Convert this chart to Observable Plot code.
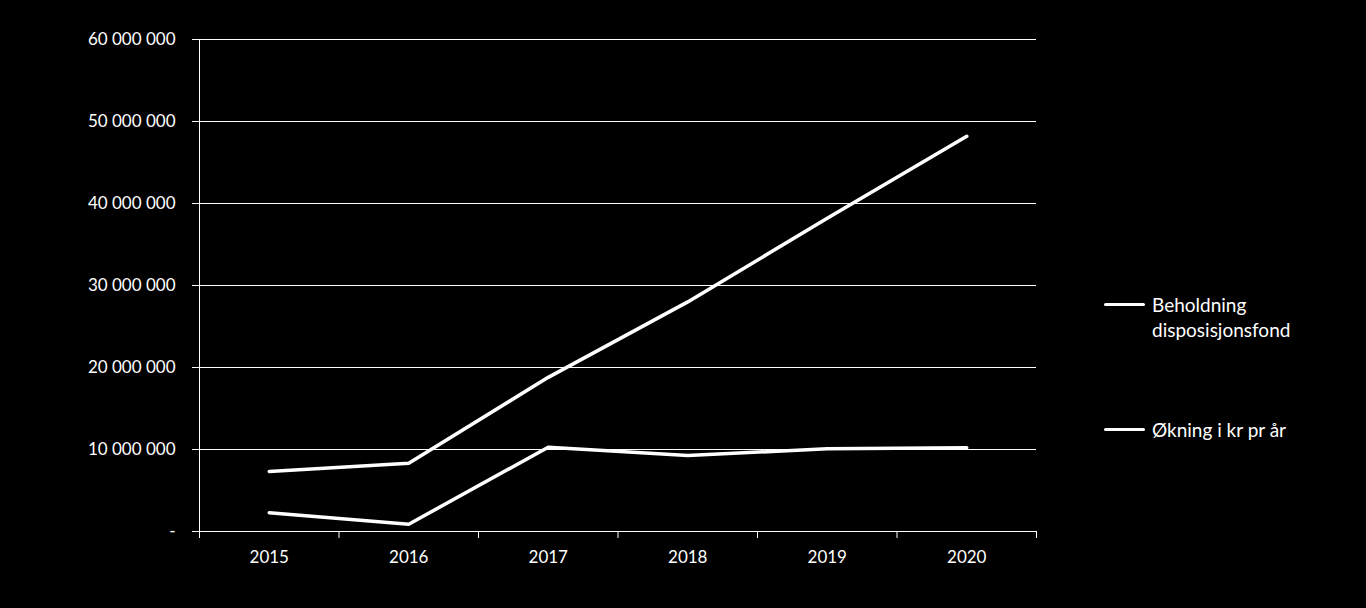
<!DOCTYPE html>
<html>
<head>
<meta charset="utf-8">
<script src="https://cdn.jsdelivr.net/npm/d3@7"></script>
<script src="https://cdn.jsdelivr.net/npm/@observablehq/plot@0.6"></script>
<style>
  html, body { margin: 0; padding: 0; background: #000; }
  #wrap { position: relative; width: 1366px; height: 608px; font-family: Lato, "Open Sans", sans-serif; color: #fff; }
  .leg { position: absolute; left: 1104px; font-size: 19px; line-height: 25px; color: #fff; }
  .leg .sw { position: absolute; left: 0; width: 41px; height: 3.5px; background: #fff; border-radius: 2px; }
  .leg .tx { position: absolute; left: 48px; white-space: nowrap; }
</style>
</head>
<body>
<div id="wrap"></div>
<script>
const years = [2015, 2016, 2017, 2018, 2019, 2020];
const beholdning = [7320000, 8330000, 18800000, 28000000, 38200000, 48200000];
const okning = [2300000, 890000, 10280000, 9270000, 10080000, 10200000];
const seriesNames = ["Beholdning disposisjonsfond", "Økning i kr pr år"];
const yTicks = [0, 10000000, 20000000, 30000000, 40000000, 50000000, 60000000];

const data = [
  ...years.map((y, i) => ({year: y, value: beholdning[i], series: seriesNames[0]})),
  ...years.map((y, i) => ({year: y, value: okning[i], series: seriesNames[1]}))
];
const boundaries = [...years.map(y => y - 0.5), years[years.length - 1] + 0.5];
const fmt = v => v === 0 ? "-" : d3.format(",")(v).replace(/,/g, " ");

const chart = Plot.plot({
  width: 1366,
  height: 608,
  marginLeft: 199,
  marginRight: 330,
  marginTop: 39,
  marginBottom: 77,
  style: {background: "#000", color: "#fff", fontFamily: "Lato, 'Open Sans', sans-serif", fontSize: "17px"},
  x: {domain: [boundaries[0], boundaries[boundaries.length - 1]]},
  y: {domain: [0, 60000000]},
  marks: [
    Plot.gridY(yTicks, {stroke: "#fff", strokeOpacity: 1, strokeWidth: 1}),
    Plot.axisY(yTicks, {tickSize: 7, tickPadding: 17, tickFormat: fmt, stroke: "#fff", fill: "#fff", label: null, fontSize: 17}),
    Plot.ruleX([boundaries[0]], {stroke: "#fff", strokeWidth: 1}),
    Plot.ruleY([0], {stroke: "#fff", strokeWidth: 1}),
    Plot.axisX(boundaries, {tickSize: 7, tickFormat: () => "", stroke: "#fff", label: null}),
    Plot.axisX(years, {tickSize: 0, tickPadding: 19, tickFormat: d => String(d), fill: "#fff", label: null, fontSize: 17}),
    Plot.line(data, {x: "year", y: "value", z: "series", stroke: "#fff", strokeWidth: 3.5, strokeLinecap: "round", strokeLinejoin: "round"})
  ]
});
const wrap = document.getElementById("wrap");
wrap.appendChild(chart);

const legend = [
  {name: ["Beholdning", "disposisjonsfond"], top: 304},
  {name: [seriesNames[1]], top: 429}
];
for (const l of legend) {
  const d = document.createElement("div");
  d.className = "leg";
  d.style.top = (l.top - 12.5) + "px";
  const sw = document.createElement("div");
  sw.className = "sw";
  sw.style.top = "11px";
  d.appendChild(sw);
  const tx = document.createElement("div");
  tx.className = "tx";
  tx.innerHTML = l.name.join("<br>");
  d.appendChild(tx);
  wrap.appendChild(d);
}
</script>
</body>
</html>
